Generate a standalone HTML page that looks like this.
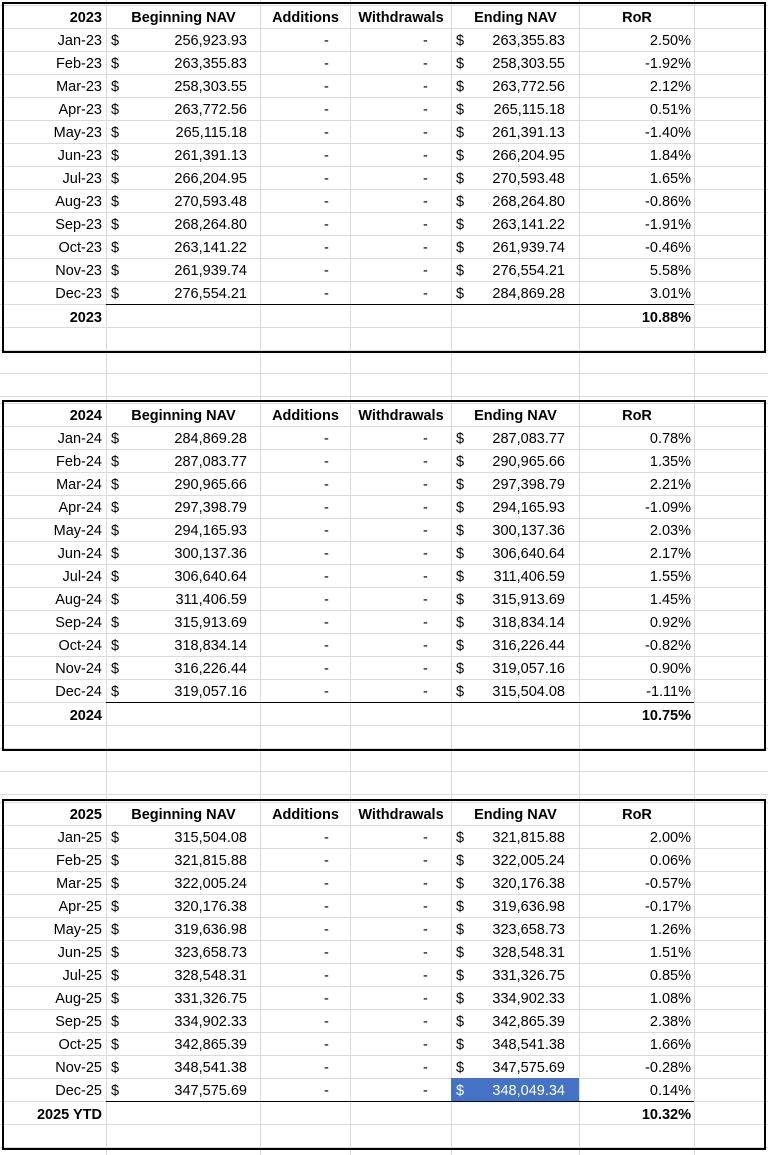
<!DOCTYPE html>
<html><head><meta charset="utf-8"><style>
body{margin:0;width:768px;height:1155px;background:#fff;position:relative;overflow:hidden;font-family:"Liberation Sans",Arial,sans-serif;font-size:14.5px;color:#000}
.blk{position:absolute;left:0;width:768px;height:399px;
background-image:
linear-gradient(to right,transparent 106px,#dadada 106px,#dadada 107px,transparent 107px),
linear-gradient(to right,transparent 260px,#dadada 260px,#dadada 261px,transparent 261px),
linear-gradient(to right,transparent 350px,#dadada 350px,#dadada 351px,transparent 351px),
linear-gradient(to right,transparent 451px,#dadada 451px,#dadada 452px,transparent 452px),
linear-gradient(to right,transparent 579px,#dadada 579px,#dadada 580px,transparent 580px),
linear-gradient(to right,transparent 694px,#dadada 694px,#dadada 695px,transparent 695px),
repeating-linear-gradient(to bottom,transparent 0,transparent 5px,#dadada 5px,#dadada 6px,transparent 6px,transparent 23px);}
.box{position:absolute;left:2px;top:2px;width:760px;height:347px;border:2px solid #000}
.r{position:absolute;left:0;width:768px;height:23px;line-height:23px}
.r span{position:absolute;white-space:nowrap;top:2px}
.a{right:666px}.d1{left:111px}.b{right:521px}.ad{left:324px}.w{left:423px}.d2{left:456px}.e{right:203px}.ror{right:77px}
.ul{position:absolute;left:106px;width:588px;top:304px;height:1px;background:#000}
.hl{position:absolute;left:451px;top:281px;width:128px;height:23px;background:#4472c4}
</style></head><body>

<div class="blk" style="top:0">
<div class="box"></div>
<div class="r" style="top:5px;font-weight:bold"><span class="a">2023</span><span style="left:107px;width:153px;text-align:center">Beginning NAV</span><span style="left:261px;width:89px;text-align:center">Additions</span><span style="left:351px;width:100px;text-align:center">Withdrawals</span><span style="left:452px;width:127px;text-align:center">Ending NAV</span><span style="left:580px;width:114px;text-align:center">RoR</span></div>
<div class="r" style="top:28px"><span class="a">Jan-23</span><span class="d1">$</span><span class="b">256,923.93</span><span class="ad">-</span><span class="w">-</span><span class="d2">$</span><span class="e">263,355.83</span><span class="ror">2.50%</span></div>
<div class="r" style="top:51px"><span class="a">Feb-23</span><span class="d1">$</span><span class="b">263,355.83</span><span class="ad">-</span><span class="w">-</span><span class="d2">$</span><span class="e">258,303.55</span><span class="ror">-1.92%</span></div>
<div class="r" style="top:74px"><span class="a">Mar-23</span><span class="d1">$</span><span class="b">258,303.55</span><span class="ad">-</span><span class="w">-</span><span class="d2">$</span><span class="e">263,772.56</span><span class="ror">2.12%</span></div>
<div class="r" style="top:97px"><span class="a">Apr-23</span><span class="d1">$</span><span class="b">263,772.56</span><span class="ad">-</span><span class="w">-</span><span class="d2">$</span><span class="e">265,115.18</span><span class="ror">0.51%</span></div>
<div class="r" style="top:120px"><span class="a">May-23</span><span class="d1">$</span><span class="b">265,115.18</span><span class="ad">-</span><span class="w">-</span><span class="d2">$</span><span class="e">261,391.13</span><span class="ror">-1.40%</span></div>
<div class="r" style="top:143px"><span class="a">Jun-23</span><span class="d1">$</span><span class="b">261,391.13</span><span class="ad">-</span><span class="w">-</span><span class="d2">$</span><span class="e">266,204.95</span><span class="ror">1.84%</span></div>
<div class="r" style="top:166px"><span class="a">Jul-23</span><span class="d1">$</span><span class="b">266,204.95</span><span class="ad">-</span><span class="w">-</span><span class="d2">$</span><span class="e">270,593.48</span><span class="ror">1.65%</span></div>
<div class="r" style="top:189px"><span class="a">Aug-23</span><span class="d1">$</span><span class="b">270,593.48</span><span class="ad">-</span><span class="w">-</span><span class="d2">$</span><span class="e">268,264.80</span><span class="ror">-0.86%</span></div>
<div class="r" style="top:212px"><span class="a">Sep-23</span><span class="d1">$</span><span class="b">268,264.80</span><span class="ad">-</span><span class="w">-</span><span class="d2">$</span><span class="e">263,141.22</span><span class="ror">-1.91%</span></div>
<div class="r" style="top:235px"><span class="a">Oct-23</span><span class="d1">$</span><span class="b">263,141.22</span><span class="ad">-</span><span class="w">-</span><span class="d2">$</span><span class="e">261,939.74</span><span class="ror">-0.46%</span></div>
<div class="r" style="top:258px"><span class="a">Nov-23</span><span class="d1">$</span><span class="b">261,939.74</span><span class="ad">-</span><span class="w">-</span><span class="d2">$</span><span class="e">276,554.21</span><span class="ror">5.58%</span></div>
<div class="r" style="top:281px"><span class="a">Dec-23</span><span class="d1">$</span><span class="b">276,554.21</span><span class="ad">-</span><span class="w">-</span><span class="d2">$</span><span class="e">284,869.28</span><span class="ror">3.01%</span></div>
<div class="ul"></div>
<div class="r" style="top:305px;font-weight:bold"><span class="a">2023</span><span class="ror">10.88%</span></div>
</div>

<div class="blk" style="top:398px">
<div class="box"></div>
<div class="r" style="top:5px;font-weight:bold"><span class="a">2024</span><span style="left:107px;width:153px;text-align:center">Beginning NAV</span><span style="left:261px;width:89px;text-align:center">Additions</span><span style="left:351px;width:100px;text-align:center">Withdrawals</span><span style="left:452px;width:127px;text-align:center">Ending NAV</span><span style="left:580px;width:114px;text-align:center">RoR</span></div>
<div class="r" style="top:28px"><span class="a">Jan-24</span><span class="d1">$</span><span class="b">284,869.28</span><span class="ad">-</span><span class="w">-</span><span class="d2">$</span><span class="e">287,083.77</span><span class="ror">0.78%</span></div>
<div class="r" style="top:51px"><span class="a">Feb-24</span><span class="d1">$</span><span class="b">287,083.77</span><span class="ad">-</span><span class="w">-</span><span class="d2">$</span><span class="e">290,965.66</span><span class="ror">1.35%</span></div>
<div class="r" style="top:74px"><span class="a">Mar-24</span><span class="d1">$</span><span class="b">290,965.66</span><span class="ad">-</span><span class="w">-</span><span class="d2">$</span><span class="e">297,398.79</span><span class="ror">2.21%</span></div>
<div class="r" style="top:97px"><span class="a">Apr-24</span><span class="d1">$</span><span class="b">297,398.79</span><span class="ad">-</span><span class="w">-</span><span class="d2">$</span><span class="e">294,165.93</span><span class="ror">-1.09%</span></div>
<div class="r" style="top:120px"><span class="a">May-24</span><span class="d1">$</span><span class="b">294,165.93</span><span class="ad">-</span><span class="w">-</span><span class="d2">$</span><span class="e">300,137.36</span><span class="ror">2.03%</span></div>
<div class="r" style="top:143px"><span class="a">Jun-24</span><span class="d1">$</span><span class="b">300,137.36</span><span class="ad">-</span><span class="w">-</span><span class="d2">$</span><span class="e">306,640.64</span><span class="ror">2.17%</span></div>
<div class="r" style="top:166px"><span class="a">Jul-24</span><span class="d1">$</span><span class="b">306,640.64</span><span class="ad">-</span><span class="w">-</span><span class="d2">$</span><span class="e">311,406.59</span><span class="ror">1.55%</span></div>
<div class="r" style="top:189px"><span class="a">Aug-24</span><span class="d1">$</span><span class="b">311,406.59</span><span class="ad">-</span><span class="w">-</span><span class="d2">$</span><span class="e">315,913.69</span><span class="ror">1.45%</span></div>
<div class="r" style="top:212px"><span class="a">Sep-24</span><span class="d1">$</span><span class="b">315,913.69</span><span class="ad">-</span><span class="w">-</span><span class="d2">$</span><span class="e">318,834.14</span><span class="ror">0.92%</span></div>
<div class="r" style="top:235px"><span class="a">Oct-24</span><span class="d1">$</span><span class="b">318,834.14</span><span class="ad">-</span><span class="w">-</span><span class="d2">$</span><span class="e">316,226.44</span><span class="ror">-0.82%</span></div>
<div class="r" style="top:258px"><span class="a">Nov-24</span><span class="d1">$</span><span class="b">316,226.44</span><span class="ad">-</span><span class="w">-</span><span class="d2">$</span><span class="e">319,057.16</span><span class="ror">0.90%</span></div>
<div class="r" style="top:281px"><span class="a">Dec-24</span><span class="d1">$</span><span class="b">319,057.16</span><span class="ad">-</span><span class="w">-</span><span class="d2">$</span><span class="e">315,504.08</span><span class="ror">-1.11%</span></div>
<div class="ul"></div>
<div class="r" style="top:305px;font-weight:bold"><span class="a">2024</span><span class="ror">10.75%</span></div>
</div>

<div class="blk" style="top:797px;height:358px">
<div class="box"></div>
<div class="r" style="top:5px;font-weight:bold"><span class="a">2025</span><span style="left:107px;width:153px;text-align:center">Beginning NAV</span><span style="left:261px;width:89px;text-align:center">Additions</span><span style="left:351px;width:100px;text-align:center">Withdrawals</span><span style="left:452px;width:127px;text-align:center">Ending NAV</span><span style="left:580px;width:114px;text-align:center">RoR</span></div>
<div class="r" style="top:28px"><span class="a">Jan-25</span><span class="d1">$</span><span class="b">315,504.08</span><span class="ad">-</span><span class="w">-</span><span class="d2">$</span><span class="e">321,815.88</span><span class="ror">2.00%</span></div>
<div class="r" style="top:51px"><span class="a">Feb-25</span><span class="d1">$</span><span class="b">321,815.88</span><span class="ad">-</span><span class="w">-</span><span class="d2">$</span><span class="e">322,005.24</span><span class="ror">0.06%</span></div>
<div class="r" style="top:74px"><span class="a">Mar-25</span><span class="d1">$</span><span class="b">322,005.24</span><span class="ad">-</span><span class="w">-</span><span class="d2">$</span><span class="e">320,176.38</span><span class="ror">-0.57%</span></div>
<div class="r" style="top:97px"><span class="a">Apr-25</span><span class="d1">$</span><span class="b">320,176.38</span><span class="ad">-</span><span class="w">-</span><span class="d2">$</span><span class="e">319,636.98</span><span class="ror">-0.17%</span></div>
<div class="r" style="top:120px"><span class="a">May-25</span><span class="d1">$</span><span class="b">319,636.98</span><span class="ad">-</span><span class="w">-</span><span class="d2">$</span><span class="e">323,658.73</span><span class="ror">1.26%</span></div>
<div class="r" style="top:143px"><span class="a">Jun-25</span><span class="d1">$</span><span class="b">323,658.73</span><span class="ad">-</span><span class="w">-</span><span class="d2">$</span><span class="e">328,548.31</span><span class="ror">1.51%</span></div>
<div class="r" style="top:166px"><span class="a">Jul-25</span><span class="d1">$</span><span class="b">328,548.31</span><span class="ad">-</span><span class="w">-</span><span class="d2">$</span><span class="e">331,326.75</span><span class="ror">0.85%</span></div>
<div class="r" style="top:189px"><span class="a">Aug-25</span><span class="d1">$</span><span class="b">331,326.75</span><span class="ad">-</span><span class="w">-</span><span class="d2">$</span><span class="e">334,902.33</span><span class="ror">1.08%</span></div>
<div class="r" style="top:212px"><span class="a">Sep-25</span><span class="d1">$</span><span class="b">334,902.33</span><span class="ad">-</span><span class="w">-</span><span class="d2">$</span><span class="e">342,865.39</span><span class="ror">2.38%</span></div>
<div class="r" style="top:235px"><span class="a">Oct-25</span><span class="d1">$</span><span class="b">342,865.39</span><span class="ad">-</span><span class="w">-</span><span class="d2">$</span><span class="e">348,541.38</span><span class="ror">1.66%</span></div>
<div class="r" style="top:258px"><span class="a">Nov-25</span><span class="d1">$</span><span class="b">348,541.38</span><span class="ad">-</span><span class="w">-</span><span class="d2">$</span><span class="e">347,575.69</span><span class="ror">-0.28%</span></div>
<div class="hl"></div>
<div class="r" style="top:281px"><span class="a">Dec-25</span><span class="d1">$</span><span class="b">347,575.69</span><span class="ad">-</span><span class="w">-</span><span class="d2" style="color:#fff">$</span><span class="e" style="color:#fff">348,049.34</span><span class="ror">0.14%</span></div>
<div class="ul"></div>
<div class="r" style="top:305px;font-weight:bold"><span class="a">2025 YTD</span><span class="ror">10.32%</span></div>
</div>

</body></html>
